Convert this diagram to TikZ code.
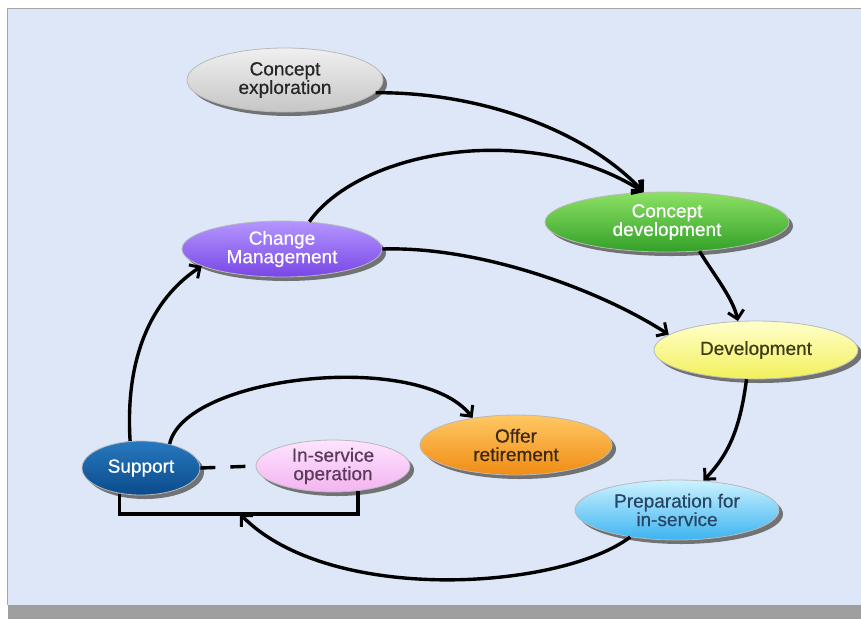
\documentclass[tikz,border=0pt]{standalone}
\usepackage{fontspec}
\setmainfont{Liberation Sans}
\usetikzlibrary{shapes.geometric,shadows,arrows.meta}
\definecolor{panel}{HTML}{DDE7F7}
\tikzset{
  bub/.style={ellipse, inner sep=0pt, draw=gray!55, line width=0.8pt,
    font=\fontsize{19}{18.5}\selectfont\addfontfeature{FakeBold=0.6}, align=center,
    drop shadow={shadow xshift=4pt, shadow yshift=-4pt, fill=black!60, opacity=0.9}},
  conn/.style={line width=3.4pt, black, -{Straight Barb[length=8pt,width=16pt,line width=3pt]}},
  plain/.style={line width=3.4pt, black}
}
\begin{document}
\begin{tikzpicture}[x=1pt,y=-1pt]
\useasboundingbox (0,0) rectangle (861,619);
\fill[white] (0,0) rectangle (861,619);
\fill[gray!75] (8,605) rectangle (861,619);
\fill[panel] (7,8) rectangle (861,605);
\draw[gray!70, line width=1pt] (7,605) -- (7,8) -- (861,8);

\node[bub, minimum width=196pt, minimum height=64pt, top color=gray!12, bottom color=gray!45, text=black!85] (ce) at (285,80) {Concept\\exploration};
\node[bub, minimum width=244pt, minimum height=60pt, top color={rgb,255:red,140;green,225;blue,100}, bottom color={rgb,255:red,50;green,160;blue,40}, text=white] (cd) at (667,222) {Concept\\development};
\node[bub, minimum width=200pt, minimum height=56pt, top color={rgb,255:red,180;green,150;blue,255}, bottom color={rgb,255:red,120;green,70;blue,230}, text=white] (cm) at (282,249) {Change\\Management};
\node[bub, minimum width=204pt, minimum height=58pt, top color={rgb,255:red,255;green,255;blue,205}, bottom color={rgb,255:red,242;green,240;blue,90}, text={rgb,255:red,60;green,60;blue,20}] (dev) at (756,350) {Development};
\node[bub, minimum width=192pt, minimum height=60pt, top color={rgb,255:red,255;green,200;blue,100}, bottom color={rgb,255:red,240;green,140;blue,20}, text={rgb,255:red,60;green,40;blue,20}] (off) at (516,445) {Offer\\retirement};
\node[bub, minimum width=118pt, minimum height=54pt, top color={rgb,255:red,40;green,120;blue,190}, bottom color={rgb,255:red,10;green,75;blue,140}, text=white] (sup) at (141,468) {Support};
\node[bub, minimum width=154pt, minimum height=52pt, top color={rgb,255:red,255;green,228;blue,255}, bottom color={rgb,255:red,242;green,180;blue,240}, text={rgb,255:red,90;green,60;blue,90}] (ins) at (333,466) {In-service\\operation};
\node[bub, minimum width=204pt, minimum height=60pt, top color={rgb,255:red,205;green,242;blue,255}, bottom color={rgb,255:red,60;green,180;blue,240}, text={rgb,255:red,40;green,70;blue,100}] (prep) at (677,510) {Preparation for\\in-service};

\coordinate (br) at (240,514);

\draw[conn] (ce.-8) .. controls (480,92) and (585,130) .. (cd.128);
\draw[conn] (cm.45) .. controls (360,150) and (530,120) .. (cd.128);
\draw[conn] (cm.0) .. controls (480,246) and (600,290) .. (dev.170);
\draw[conn] (cd.-42) .. controls (712,272) and (733,298) .. (dev.122);
\draw[conn] (dev.-108) .. controls (740,430) and (728,455) .. (prep.48);
\draw[conn] (prep.-150) .. controls (560,590) and (330,605) .. (br);
\draw[plain] (sup.-130) |- (br) -| (ins.-45);
\draw[conn] (sup.112) .. controls (125,360) and (150,300) .. (cm.192);
\draw[conn] (sup.40) .. controls (185,375) and (420,350) .. (off.148);
\draw[plain, dash pattern=on 15pt off 15pt] (sup.east) -- (ins.west);
\end{tikzpicture}
\end{document}
